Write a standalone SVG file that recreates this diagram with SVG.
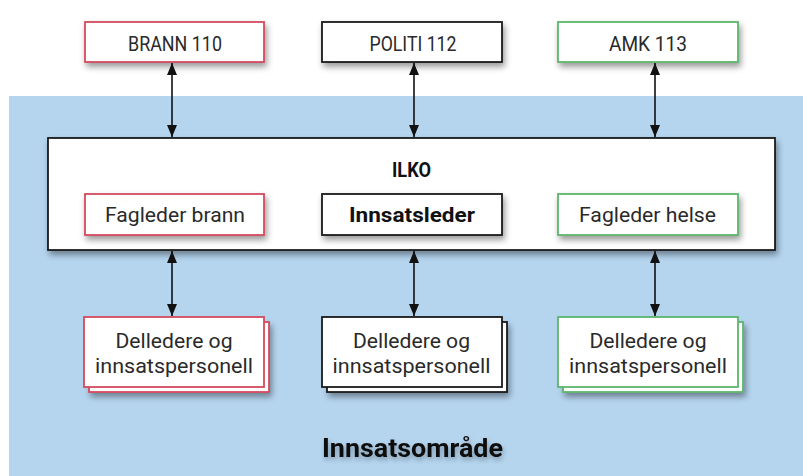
<svg xmlns="http://www.w3.org/2000/svg" width="803" height="476" viewBox="0 0 803 476">
  <defs>
    <filter id="shadow" x="-10%" y="-20%" width="130%" height="160%">
      <feDropShadow dx="2" dy="4" stdDeviation="3" flood-color="#000" flood-opacity="0.4"/>
    </filter>
    <filter id="text-shadow" x="-10%" y="-30%" width="120%" height="180%">
      <feDropShadow dx="1" dy="3" stdDeviation="2.5" flood-color="#000" flood-opacity="0.3"/>
    </filter>
    <marker id="arrow" viewBox="0 0 12 10" refX="12" refY="5" markerWidth="12" markerHeight="10" markerUnits="userSpaceOnUse" orient="auto-start-reverse">
      <path d="M0,0 L12,5 L0,10 z" fill="#111"/>
    </marker>
  </defs>
  <style>
    .box { fill: #fff; stroke-width: 1.8; }
    .red { stroke: #d44a5e; }
    .black { stroke: #1a1a1a; }
    .green { stroke: #5cb56c; }
    .lbl { font-family: Roboto, "Liberation Sans", sans-serif; font-size: 21px; fill: #2a2a2a; text-anchor: middle; }
    .caps { font-size: 20px; }
    .bold { font-weight: bold; fill: #111; }
    .conn { stroke: #111; stroke-width: 1.6; fill: none; marker-start: url(#arrow); marker-end: url(#arrow); }
  </style>

  <rect width="803" height="476" fill="#fff"/>
  <!-- operational area -->
  <rect id="area" x="9" y="96" width="794" height="380" fill="#b5d5ef"/>

  <!-- emergency centrals -->
  <g id="brann">
    <rect class="box red" x="85" y="22" width="179" height="40" filter="url(#shadow)"/>
    <text class="lbl caps" x="175" y="50.5" textLength="94" lengthAdjust="spacingAndGlyphs">BRANN 110</text>
  </g>
  <g id="politi">
    <rect class="box black" x="322" y="22" width="180" height="40" filter="url(#shadow)"/>
    <text class="lbl caps" x="413" y="50.5" textLength="87" lengthAdjust="spacingAndGlyphs">POLITI 112</text>
  </g>
  <g id="amk">
    <rect class="box green" x="558" y="22" width="180" height="40" filter="url(#shadow)"/>
    <text class="lbl caps" x="648" y="50.5" textLength="78" lengthAdjust="spacingAndGlyphs">AMK 113</text>
  </g>

  <!-- ILKO -->
  <g id="ilko">
    <rect class="box black" x="48" y="138" width="727" height="112" filter="url(#shadow)"/>
    <text class="lbl caps bold" x="411.5" y="177" textLength="39" lengthAdjust="spacingAndGlyphs">ILKO</text>
  </g>
  <g id="fagleder-brann">
    <rect class="box red" x="85" y="194" width="179" height="41" filter="url(#shadow)"/>
    <text class="lbl" x="175" y="222" textLength="140" lengthAdjust="spacingAndGlyphs">Fagleder brann</text>
  </g>
  <g id="innsatsleder">
    <rect class="box black" x="322" y="194" width="180" height="41" filter="url(#shadow)"/>
    <text class="lbl bold" x="412" y="222" textLength="126" lengthAdjust="spacingAndGlyphs">Innsatsleder</text>
  </g>
  <g id="fagleder-helse">
    <rect class="box green" x="558" y="194" width="180" height="41" filter="url(#shadow)"/>
    <text class="lbl" x="647.5" y="222" textLength="137" lengthAdjust="spacingAndGlyphs">Fagleder helse</text>
  </g>

  <!-- sub-leaders and personnel (stacked) -->
  <g id="personell-brann">
    <rect class="box red" x="89" y="322" width="180" height="70" filter="url(#shadow)"/>
    <rect class="box red" x="84" y="317" width="180" height="70"/>
    <text class="lbl" x="174" y="348" textLength="117" lengthAdjust="spacingAndGlyphs">Delledere og</text>
    <text class="lbl" x="174" y="373" textLength="158" lengthAdjust="spacingAndGlyphs">innsatspersonell</text>
  </g>
  <g id="personell-politi">
    <rect class="box black" x="327" y="322" width="180" height="70" filter="url(#shadow)"/>
    <rect class="box black" x="322" y="317" width="180" height="70"/>
    <text class="lbl" x="411.5" y="348" textLength="117" lengthAdjust="spacingAndGlyphs">Delledere og</text>
    <text class="lbl" x="411.5" y="373" textLength="158" lengthAdjust="spacingAndGlyphs">innsatspersonell</text>
  </g>
  <g id="personell-helse">
    <rect class="box green" x="563" y="322" width="180" height="70" filter="url(#shadow)"/>
    <rect class="box green" x="558" y="317" width="180" height="70"/>
    <text class="lbl" x="648" y="348" textLength="117" lengthAdjust="spacingAndGlyphs">Delledere og</text>
    <text class="lbl" x="648" y="373" textLength="158" lengthAdjust="spacingAndGlyphs">innsatspersonell</text>
  </g>

  <!-- connectors -->
  <g id="connectors">
    <line class="conn" x1="172" y1="63" x2="172" y2="137"/>
    <line class="conn" x1="414" y1="63" x2="414" y2="137"/>
    <line class="conn" x1="655" y1="63" x2="655" y2="137"/>
    <line class="conn" x1="172" y1="251" x2="172" y2="316"/>
    <line class="conn" x1="414" y1="251" x2="414" y2="316"/>
    <line class="conn" x1="655" y1="251" x2="655" y2="316"/>
  </g>

  <text id="area-label" class="lbl bold" x="412.5" y="457" style="font-size:25px" textLength="181" lengthAdjust="spacingAndGlyphs" filter="url(#text-shadow)">Innsatsområde</text>
</svg>
